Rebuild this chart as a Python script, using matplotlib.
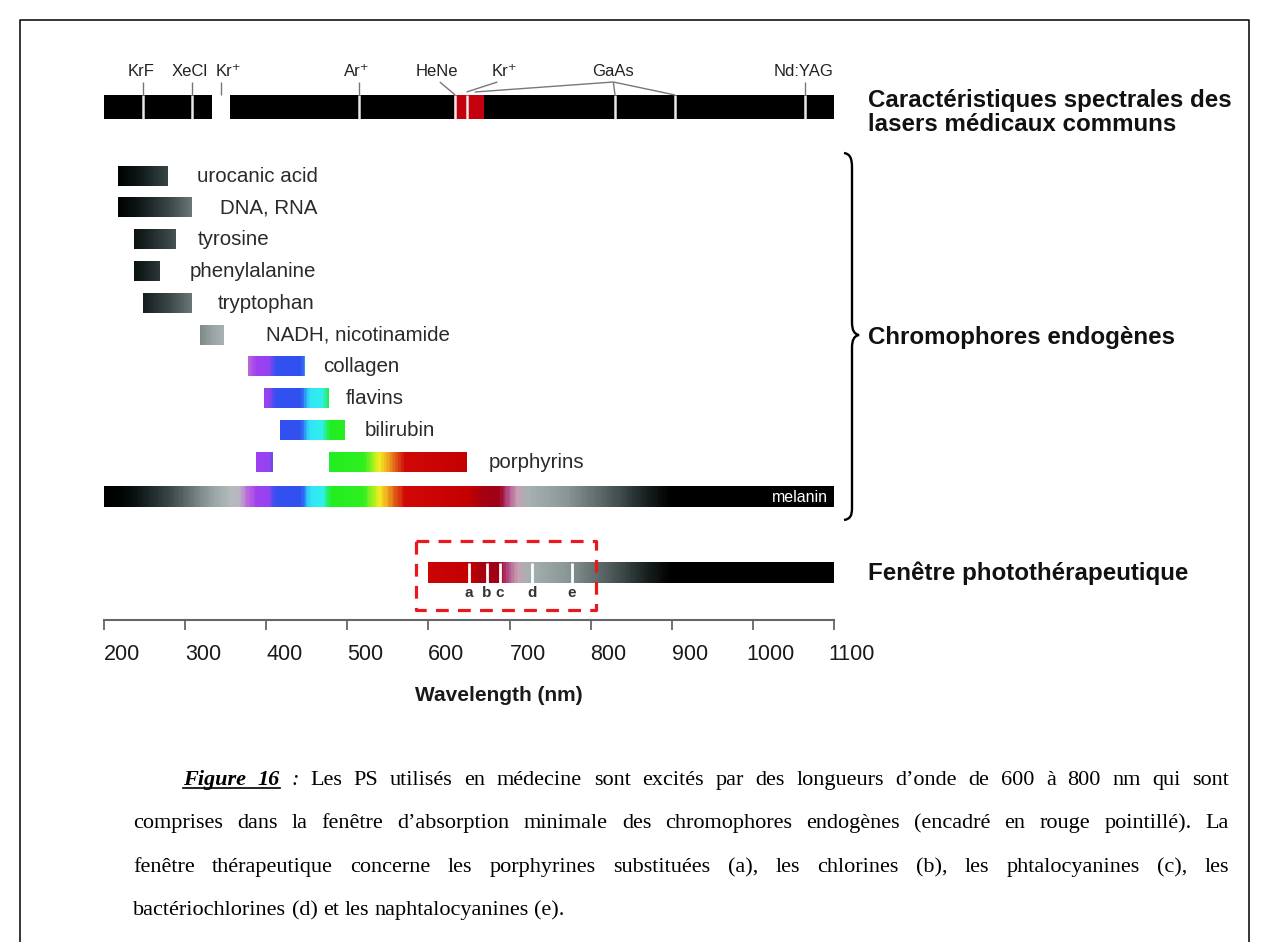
import numpy as np
import matplotlib
matplotlib.use('Agg')
import matplotlib.pyplot as plt
import matplotlib.transforms as mtransforms
from matplotlib.colors import LinearSegmentedColormap, Normalize
from matplotlib.path import Path
from matplotlib.patches import PathPatch
from matplotlib.lines import Line2D

# ---- data ----
# colour of the spectrum along the wavelength axis
spectrum_nm = [200, 222, 240, 278, 308, 332, 355, 366, 374, 386, 402, 410, 442,
               452, 468, 478, 520, 538, 548, 558, 570, 650, 665, 688, 698, 710,
               722, 770, 830, 870, 900, 1100]
spectrum_colors = ['#000000', '#020606', '#0e1616', '#3a4646', '#6e7a7a', '#9aa4a4',
                   '#b4bcbc', '#bab4c4', '#c070d8', '#a040f0', '#9444f0', '#3450f0',
                   '#3050f0', '#30e4f8', '#30f0ec', '#20ee20', '#30f020', '#f0f020',
                   '#f0b020', '#e06018', '#d00808', '#c40000', '#a80010', '#a00018',
                   '#b24a86', '#c8a0b2', '#a8b2b2', '#8c9898', '#4a5656', '#182020',
                   '#000000', '#000000']

laser_labels = ['KrF', 'XeCl', 'Kr⁺', 'Ar⁺', 'HeNe', 'Kr⁺', 'GaAs', 'Nd:YAG']
laser_label_nm = [246, 306, 353, 512, 611, 694, 828, 1062]
laser_anchor_nm = [248, 308, 344, 514, 614, 685, 828, 1064]
laser_targets = [[248], [308], [344], [514], [633], [647], [657, 830, 904], [1064]]
laser_lines = [248, 308, 514, 633, 647, 830, 904, 1064]
laser_uv_block = (333, 355)
laser_red_block = (631, 669)

chromophores = ['urocanic acid', 'DNA, RNA', 'tyrosine', 'phenylalanine', 'tryptophan',
                'NADH, nicotinamide', 'collagen', 'flavins', 'bilirubin', 'porphyrins']
chromo_ranges = [[(217, 278)], [(217, 308)], [(237, 288)], [(237, 268)], [(248, 308)],
                 [(318, 347)], [(377, 447)], [(397, 477)], [(417, 497)],
                 [(387, 407), (477, 647)]]
label_gap_px = [30, 28, 22, 31, 26, 43, 19, 17, 20, 22]

window_nm = (600, 1100)
ps_lines = [650, 672, 688, 728, 777]
ps_labels = ['a', 'b', 'c', 'd', 'e']
box_nm = (585, 807)

ticks = list(range(200, 1101, 100))

caption = [
    "Figure 16 : Les PS utilisés en médecine sont excités par des longueurs d’onde de 600 à 800 nm qui sont",
    "comprises dans la fenêtre d’absorption minimale des chromophores endogènes (encadré en rouge pointillé). La",
    "fenêtre thérapeutique concerne les porphyrines substituées (a), les chlorines (b), les phtalocyanines (c), les",
    "bactériochlorines (d) et les naphtalocyanines (e).",
]

# ---- layout ----
W, H = 1268, 942
ROW0, ROW_PX = 176, 31.8
row = lambda px: (px - ROW0) / ROW_PX
laser_row, melanin_row, window_row, axis_row = row(107), row(497), row(573), row(620)
SANS = ['Liberation Sans', 'DejaVu Sans']

plt.rcParams['font.family'] = SANS
fig = plt.figure(figsize=(W / 100, H / 100), dpi=100)
pix = mtransforms.Affine2D().scale(1 / W, -1 / H).translate(0, 1) + fig.transFigure
ax = fig.add_axes([104 / W, 1 - 720 / H, 730 / W, 680 / H])
ax.patch.set_visible(False)

cmap = LinearSegmentedColormap.from_list(
    'spec', list(zip([(w - 200) / 900 for w in spectrum_nm], spectrum_colors)))
norm = Normalize(200, 1100)


def grad_bar(lo, hi, y, h):
    wl = np.linspace(lo, hi, 400)
    ax.imshow(cmap(norm(wl))[None, :, :], extent=(lo, hi, y + h / 2, y - h / 2),
              aspect='auto', interpolation='bilinear')


px_nm = 900 / 730

# laser bar
lh = 0.755
ax.barh(laser_row, 900, left=200, height=lh, color='black')
ax.barh(laser_row, laser_uv_block[1] - laser_uv_block[0], left=laser_uv_block[0], height=lh, color='white')
ax.barh(laser_row, laser_red_block[1] - laser_red_block[0], left=laser_red_block[0], height=lh, color='#c4000e')
ax.vlines(laser_lines, laser_row - lh / 2, laser_row + lh / 2, color='#e8e8e8', lw=1.8)
top_lab = row(82)
for name, lx, ax_nm, tg in zip(laser_labels, laser_label_nm, laser_anchor_nm, laser_targets):
    ax.text(lx, top_lab - 0.08, name, ha='center', va='bottom', fontsize=12, color='#222222')
    for t in tg:
        yend = laser_row - lh / 2 if t not in (657, 647) else row(92)
        ax.plot([ax_nm, t], [top_lab, yend], color='#777777', lw=1.0, solid_capstyle='butt')

# chromophores
ch = 0.6
for i, (name, rng, gap) in enumerate(zip(chromophores, chromo_ranges, label_gap_px)):
    for lo, hi in rng:
        grad_bar(lo, hi, i, ch)
    ax.text(rng[-1][1] + gap * px_nm, i, name, ha='left', va='center', fontsize=14.8, color='#2a2a2a')

# melanin
grad_bar(200, 1100, melanin_row, 0.66)
ax.text(1093, melanin_row, 'melanin', ha='right', va='center', fontsize=11.5, color='white')

# phototherapeutic window
grad_bar(window_nm[0], window_nm[1], window_row, 0.63)
ax.vlines(ps_lines, window_row - 0.315, window_row + 0.315, color='white', lw=2)
for x, s in zip(ps_lines, ps_labels):
    ax.text(x, row(593), s, ha='center', va='center', fontsize=11, fontweight='bold', color='#333333')
bx0, bx1, by0, by1 = box_nm[0], box_nm[1], row(541), row(610)
ax.plot([bx0, bx1, bx1, bx0, bx0], [by0, by0, by1, by1, by0], color='#e8191c', lw=2.3,
        linestyle=(0, (4.0, 2.9)), clip_on=False)

# axis
ax.set_xlim(200, 1100)
ax.set_ylim(row(720), row(40))
for s in ['top', 'left', 'right']:
    ax.spines[s].set_visible(False)
ax.spines['bottom'].set_position(('data', axis_row))
ax.spines['bottom'].set_color('#666666')
ax.spines['bottom'].set_linewidth(1.5)
ax.yaxis.set_visible(False)
ax.set_xticks(ticks)
ax.tick_params(axis='x', direction='out', length=7.5, width=1.3, color='#666666',
               labelsize=15.5, labelcolor='#1a1a1a', pad=10)
shift = mtransforms.ScaledTranslation(0.18, 0, fig.dpi_scale_trans)
for lab in ax.get_xticklabels():
    lab.set_transform(lab.get_transform() + shift)
ax.set_xlabel('Wavelength (nm)', fontsize=15, fontweight='bold', color='#1a1a1a', x=0.541, labelpad=15)

# right side titles
for txt, y in [('Caractéristiques spectrales des', 107), ('lasers médicaux communs', 131),
               ('Chromophores endogènes', 344), ('Fenêtre photothérapeutique', 580)]:
    fig.text(868, y, txt, transform=pix, fontsize=17.4, fontweight='bold', color='#111111', va='baseline')

# brace
verts = [(844, 153), (850, 154), (852, 158), (852, 168), (852, 322),
         (852, 330), (854, 334), (859, 335), (854, 336), (852, 340), (852, 348),
         (852, 508), (852, 516), (850, 519), (844, 520)]
codes = [Path.MOVETO, Path.CURVE4, Path.CURVE4, Path.CURVE4, Path.LINETO,
         Path.CURVE4, Path.CURVE4, Path.CURVE4, Path.CURVE4, Path.CURVE4, Path.CURVE4,
         Path.LINETO, Path.CURVE4, Path.CURVE4, Path.CURVE4]
fig.add_artist(PathPatch(Path(verts, codes), transform=pix, fill=False, lw=1.7, color='black'))

# frame
fig.add_artist(Line2D([20, 20, 1249, 1249], [945, 20, 20, 945], transform=pix, color='black', lw=1.1))

# caption, justified
CAP_FS = 16
renderer = fig.canvas.get_renderer()


def caption_line(text, y, x0, x1=None, first=False):
    words = text.split(' ')
    styles = [{} for _ in words]
    if first:
        styles[0] = styles[1] = dict(fontweight='bold', fontstyle='italic')
        styles[2] = dict(fontstyle='italic')
    arts = [fig.text(0, 0, w, transform=pix, va='baseline', fontsize=CAP_FS,
                     family='Liberation Serif', color='black', **st) for w, st in zip(words, styles)]
    widths = [a.get_window_extent(renderer).width for a in arts]
    gap = CAP_FS * 100 / 72 * 0.25 if x1 is None else (x1 - x0 - sum(widths)) / (len(words) - 1)
    x, spans = x0, []
    for a, w in zip(arts, widths):
        a.set_position((x, y))
        spans.append((x, x + w))
        x += w + gap
    if first:
        fig.add_artist(Line2D([spans[0][0], spans[1][1]], [y + 3, y + 3], transform=pix, color='black', lw=1.2))


caption_line(caption[0], 785, 183, 1229, first=True)
caption_line(caption[1], 828, 133, 1229)
caption_line(caption[2], 872, 133, 1229)
caption_line(caption[3], 915, 133)

fig.savefig('out.png', dpi=100)
